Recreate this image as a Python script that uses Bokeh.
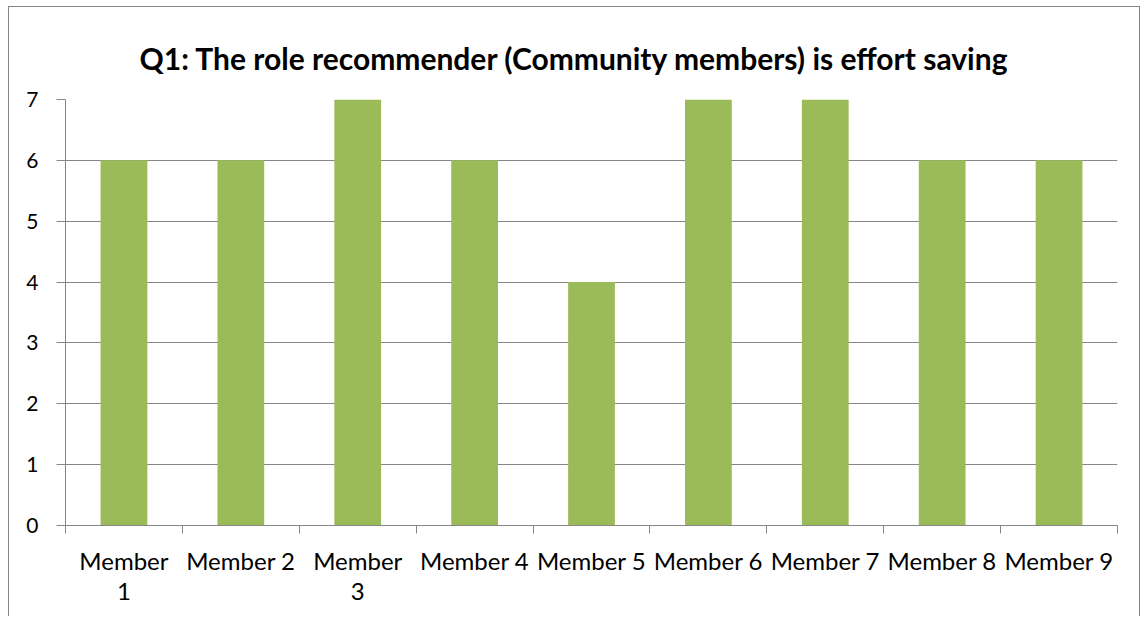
from bokeh.plotting import figure
from bokeh.models import Range1d, LinearAxis, FixedTicker, Title
from bokeh.embed import file_html
from bokeh.resources import INLINE

categories = ["Member 1", "Member 2", "Member 3", "Member 4", "Member 5",
              "Member 6", "Member 7", "Member 8", "Member 9"]
values = [6, 6, 7, 6, 4, 7, 7, 6, 6]
y_ticks = [0, 1, 2, 3, 4, 5, 6, 7]
wrapped = {"Member 1": "Member\n1", "Member 3": "Member\n3"}
title_text = "Q1: The role recommender (Community members) is effort saving"

GRAY = "#868686"
FONT = "Lato"

n = len(categories)
centers = [i + 0.5 for i in range(n)]
bounds = list(range(n + 1))

p = figure(width=1132, height=610, x_range=Range1d(0, n),
           y_range=Range1d(0, 7), output_backend="svg", toolbar_location=None,
           x_axis_location=None, y_axis_location=None,
           min_border_left=56, min_border_right=24, min_border_top=92,
           min_border_bottom=92)
p.styles = {"border-left": f"1px solid {GRAY}", "border-top": f"1px solid {GRAY}",
            "border-right": f"1px solid {GRAY}", "margin-left": "8px",
            "margin-top": "6px"}
p.outline_line_color = None
p.background_fill_color = "white"
p.border_fill_color = "white"

p.title = Title(text=title_text, align="left", vertical_align="top", text_font=FONT,
                text_font_size="30px", text_font_style="bold", text_color="black",
                offset=74, standoff=44)

# bars
p.vbar(x=centers, top=values, width=0.4, color="#9BBB59", line_color=None)

# y axis
yax = LinearAxis(ticker=FixedTicker(ticks=y_ticks))
yax.axis_line_color = GRAY
yax.major_tick_line_color = GRAY
yax.major_tick_out = 9
yax.major_tick_in = 0
yax.minor_tick_line_color = None
yax.major_label_text_font = FONT
yax.major_label_text_font_size = "21px"
yax.major_label_text_color = "black"
yax.major_label_standoff = 18
p.add_layout(yax, "left")

p.ygrid.grid_line_color = GRAY
p.ygrid.grid_line_width = 1
p.xgrid.grid_line_color = None

# x axis: labels at category centres, tick marks at category boundaries
xax = LinearAxis(ticker=FixedTicker(ticks=centers, minor_ticks=bounds))
xax.axis_line_color = GRAY
xax.major_tick_line_color = None
xax.major_tick_out = 0
xax.major_tick_in = 0
xax.minor_tick_line_color = GRAY
xax.minor_tick_out = 8
xax.minor_tick_in = 0
xax.major_label_overrides = {c: wrapped.get(name, name) for c, name in zip(centers, categories)}
xax.major_label_text_font = FONT
xax.major_label_text_font_size = "24px"
xax.major_label_text_color = "black"
xax.major_label_text_line_height = 1.05
xax.major_label_standoff = 12
p.add_layout(xax, "below")

open("out.html", "w").write(file_html(p, INLINE))
